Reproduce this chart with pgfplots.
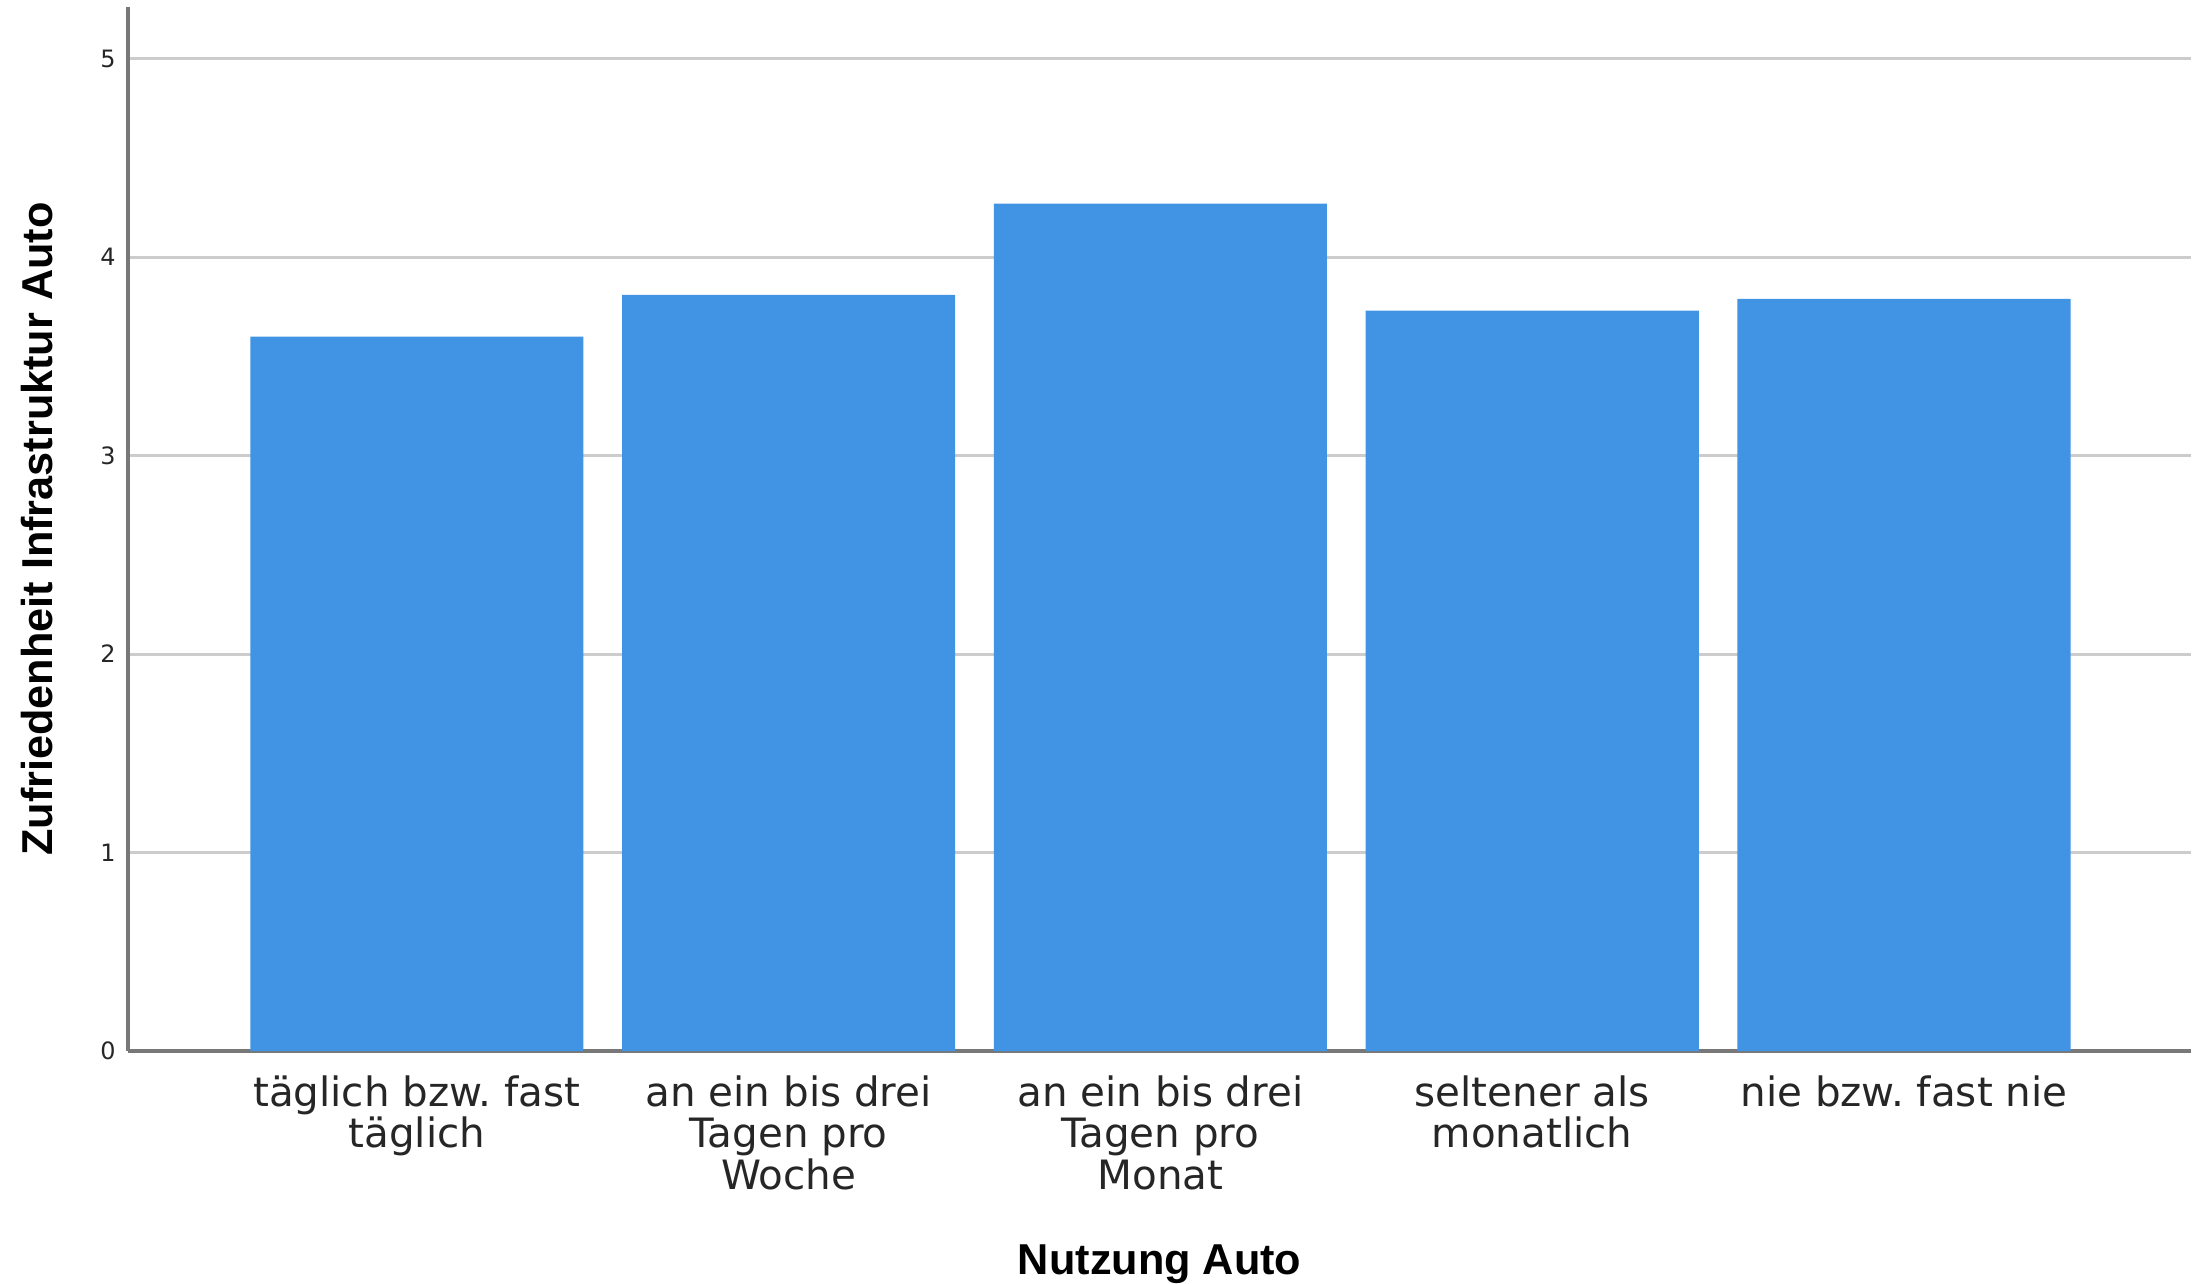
\documentclass[border=0pt]{standalone}
\usepackage{pgfplots}
\pgfplotsset{compat=1.18}
\usepackage{fontspec}
\setmainfont{DejaVu Sans}
\newfontfamily\titlefont{Liberation Sans}
\definecolor{barblue}{RGB}{65,148,228}
\definecolor{gridgray}{RGB}{204,204,204}
\definecolor{axisgray}{RGB}{120,120,120}
\frenchspacing
\begin{document}
\begin{tikzpicture}
\begin{axis}[
  scale only axis, width=587pt, height=297pt,
  xmin=-0.777, xmax=4.773, ymin=0, ymax=5.26,
  axis x line=bottom, axis y line=left,
  axis line style={-, draw=axisgray, line width=0.9pt},
  ytick={0,1,2,3,4,5},
  ymajorgrids, grid style={gridgray, line width=0.8pt},
  xtick={0,1,2,3,4},
  xticklabels={{täglich bzw. fast\\täglich},{an ein bis drei\\Tagen pro\\Woche},{an ein bis drei\\Tagen pro\\Monat},{seltener als\\monatlich},{nie bzw. fast nie}},
  major tick length=0pt,
  /pgf/number format/assume math mode=true,
  yticklabel style={font=\fontsize{6.8}{8}\selectfont, text=black!85},
  xticklabel style={font=\fontsize{11.5}{11.8}\selectfont, align=center, text=black!85, yshift=-3.5pt},
  xlabel={\titlefont\bfseries Nutzung Auto},
  ylabel={\titlefont\bfseries Zufriedenheit Infrastruktur Auto},
  xlabel style={font=\fontsize{12.3}{14}\selectfont, at={(axis description cs:0.5,0)}, anchor=center, yshift=-60.5pt, inner sep=0pt},
  ylabel style={font=\fontsize{12.3}{14}\selectfont, at={(axis description cs:-0.0443,0.5)}, anchor=center, inner sep=0pt},
]
\addplot[ybar, bar width=0.896, fill=barblue, draw=none] coordinates {
  (0,3.60) (1,3.81) (2,4.27) (3,3.73) (4,3.79)
};
\end{axis}
\path (current axis.south west) ++(-36.4pt,-65.6pt) coordinate (bl);
\path (current axis.north east) ++(3.6pt,2pt) coordinate (tr);
\path (bl) rectangle (tr);
\end{tikzpicture}
\end{document}
